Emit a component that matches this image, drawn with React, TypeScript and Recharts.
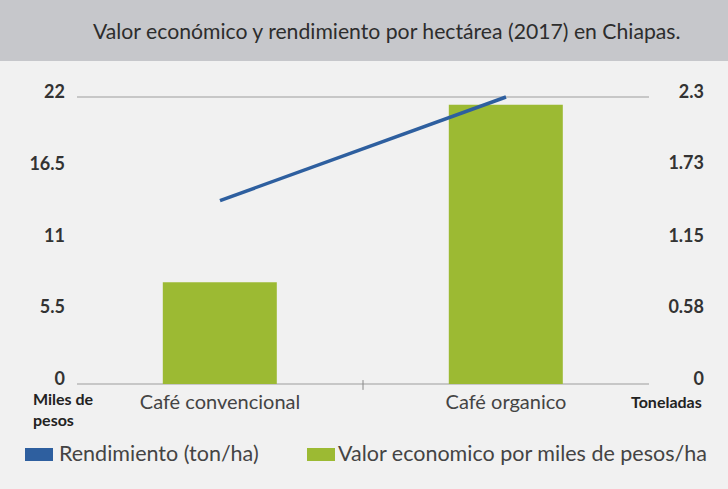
import { ComposedChart, Bar, Line, XAxis, YAxis, CartesianGrid, ReferenceLine } from "recharts"

const categories = ["Café convencional", "Café organico"]
const valorEconomico = [7.8, 21.4]
const rendimiento = [1.47, 2.3]
const leftTicks = [0, 5.5, 11, 16.5, 22]
const rightTicks = [0, 0.58, 1.15, 1.73, 2.3]

const title = "Valor económico y rendimiento por hectárea (2017) en Chiapas."
const lineName = "Rendimiento (ton/ha)"
const barName = "Valor economico por miles de pesos/ha"

const GREEN = "#9cba33"
const BLUE = "#2e5f9f"
const FONT = "Lato, 'Open Sans', sans-serif"

const data = categories.map((name, i) => ({
  name,
  valor: valorEconomico[i],
  rendimiento: rendimiento[i],
}))

const LeftTick = ({ x, y, payload }: any) => (
  <text x={x} y={y} dy={1} textAnchor="end" fontSize={18} fontWeight={700} fill="#333" fontFamily={FONT}>
    {payload.value}
  </text>
)

const RightTick = ({ x, y, payload }: any) => (
  <text x={x + 39} y={y} dy={1} textAnchor="end" fontSize={18} fontWeight={700} fill="#333" fontFamily={FONT}>
    {payload.value}
  </text>
)

export default function App() {
  return (
    <div
      style={{
        position: "absolute",
        left: 0,
        top: 0,
        width: 728,
        height: 489,
        background: "#f1f1f1",
        fontFamily: FONT,
        overflow: "hidden",
      }}
    >
      <div
        style={{
          position: "absolute",
          left: 0,
          top: 0,
          width: 728,
          height: 61,
          background: "#c6c7cb",
        }}
      >
        <div style={{ position: "absolute", left: 93, top: 18, fontSize: 21.2, color: "#2d2d2d", whiteSpace: "nowrap" }}>
          {title}
        </div>
      </div>

      <ComposedChart
        width={728}
        height={489}
        data={data}
        margin={{ top: 97, right: 19, bottom: 75, left: 17 }}
        barCategoryGap="30%"
        style={{ position: "absolute", left: 0, top: 0 }}
      >
        <CartesianGrid vertical={false} stroke="#9d9d9d" strokeWidth={1.2} />
        <XAxis
          dataKey="name"
          axisLine={false}
          tickLine={false}
          height={30}
          tickMargin={5}
          tick={{ fontSize: 20, fill: "#444", fontFamily: FONT }}
        />
        <XAxis xAxisId="n" type="number" domain={[0, 1]} hide allowDataOverflow />
        <YAxis
          yAxisId="left"
          width={60}
          domain={[0, 22]}
          ticks={leftTicks}
          axisLine={false}
          tickLine={false}
          tickSize={10}
          tickMargin={2}
          tick={<LeftTick />}
        />
        <YAxis
          yAxisId="right"
          orientation="right"
          width={60}
          domain={[0, 2.3]}
          ticks={rightTicks}
          axisLine={false}
          tickLine={false}
          tickSize={14}
          tickMargin={2}
          tick={<RightTick />}
        />
        <ReferenceLine
          xAxisId="n"
          yAxisId="left"
          segment={[
            { x: 0.5, y: 0.3 },
            { x: 0.5, y: -0.45 },
          ]}
          ifOverflow="visible"
          stroke="#888"
        />
        <Bar yAxisId="left" dataKey="valor" name={barName} fill={GREEN} isAnimationActive={false} />
        <Line
          yAxisId="right"
          type="linear"
          dataKey="rendimiento"
          name={lineName}
          stroke={BLUE}
          strokeWidth={3.5}
          dot={false}
          isAnimationActive={false}
        />
      </ComposedChart>

      <div style={{ position: "absolute", left: 33, top: 388, fontSize: 16, fontWeight: 700, color: "#222", lineHeight: "21px" }}>
        Miles de
        <br />
        pesos
      </div>
      <div style={{ position: "absolute", left: 631, top: 392, fontSize: 16, fontWeight: 700, color: "#222" }}>
        Toneladas
      </div>

      <div style={{ position: "absolute", left: 25, top: 448, width: 28, height: 13, background: BLUE }} />
      <div style={{ position: "absolute", left: 59, top: 440, fontSize: 21.5, color: "#444", whiteSpace: "nowrap" }}>
        {lineName}
      </div>
      <div style={{ position: "absolute", left: 307, top: 448, width: 28, height: 13, background: GREEN }} />
      <div style={{ position: "absolute", left: 338, top: 440, fontSize: 21.5, color: "#444", whiteSpace: "nowrap" }}>
        {barName}
      </div>
    </div>
  )
}
